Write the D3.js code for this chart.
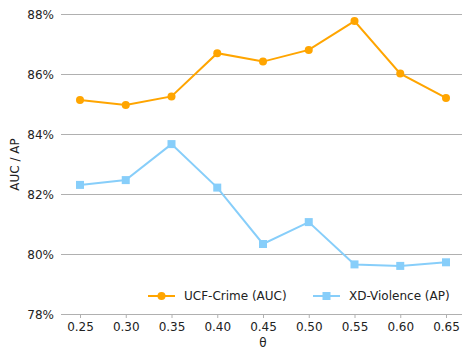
<!DOCTYPE html>
<html>
<head>
<meta charset="utf-8">
<script src="https://cdn.jsdelivr.net/npm/d3@7"></script>
<style>
  html, body { margin: 0; padding: 0; background: #fff; }
  svg { display: block; font-family: "DejaVu Sans", sans-serif; }
</style>
</head>
<body>
<svg id="chart" width="462" height="347"></svg>
<script>
// Threshold values on the x axis
const thetas = [0.25, 0.30, 0.35, 0.40, 0.45, 0.50, 0.55, 0.60, 0.65];
// UCF-Crime AUC (%)
const ucfAuc = [85.15, 84.98, 85.27, 86.71, 86.43, 86.82, 87.78, 86.03, 85.22];
// XD-Violence AP (%)
const xdAp = [82.32, 82.48, 83.68, 82.23, 80.35, 81.08, 79.67, 79.62, 79.74];
// Axis ticks
const yTicks = [78, 80, 82, 84, 86, 88];
const xTickLabels = ["0.25", "0.30", "0.35", "0.40", "0.45", "0.50", "0.55", "0.60", "0.65"];

const svg = d3.select("#chart");
const margin = { left: 61, right: 0, top: 14.5, bottom: 32.5 };
const W = 462, H = 347;

const x = d3.scaleLinear().domain([0.25, 0.65]).range([80, 446]);
const y = d3.scaleLinear().domain([78, 88]).range([H - margin.bottom, margin.top]);

// Horizontal grid lines
svg.append("g")
  .selectAll("line")
  .data(yTicks)
  .join("line")
  .attr("x1", margin.left).attr("x2", W - margin.right)
  .attr("y1", d => y(d)).attr("y2", d => y(d))
  .attr("stroke", "#b0b0b0").attr("stroke-width", 1);

// Y axis labels
svg.append("g")
  .selectAll("text")
  .data(yTicks)
  .join("text")
  .attr("x", 54).attr("y", d => y(d))
  .attr("dy", "0.35em")
  .attr("text-anchor", "end")
  .attr("font-size", 12).attr("fill", "#222")
  .text(d => d + "%");

// X axis ticks and labels
const xAxis = d3.axisBottom(x)
  .tickValues(thetas)
  .tickFormat((d, i) => xTickLabels[i])
  .tickSize(3.5)
  .tickPadding(4.5);
const gx = svg.append("g")
  .attr("transform", `translate(0,${y(78)})`)
  .call(xAxis);
gx.select(".domain").remove();
gx.selectAll(".tick line").attr("stroke", "#b0b0b0");
gx.selectAll(".tick text")
  .attr("font-size", 12).attr("fill", "#222")
  .attr("font-family", "DejaVu Sans, sans-serif");

// Axis titles
svg.append("text")
  .attr("x", (x(0.25) + x(0.65)) / 2).attr("y", 347)
  .attr("text-anchor", "middle")
  .attr("font-size", 12).attr("fill", "#222")
  .text("θ");
svg.append("text")
  .attr("transform", `translate(19,${(y(78) + y(88)) / 2}) rotate(-90)`)
  .attr("text-anchor", "middle")
  .attr("font-size", 12).attr("fill", "#222")
  .text("AUC / AP");

const line = d3.line().x((d, i) => x(thetas[i])).y(d => y(d));

// UCF-Crime series
svg.append("path").datum(ucfAuc)
  .attr("d", line).attr("fill", "none")
  .attr("stroke", "#FFA500").attr("stroke-width", 2);
svg.append("g").selectAll("circle").data(ucfAuc).join("circle")
  .attr("cx", (d, i) => x(thetas[i])).attr("cy", d => y(d))
  .attr("r", 4).attr("fill", "#FFA500");

// XD-Violence series
svg.append("path").datum(xdAp)
  .attr("d", line).attr("fill", "none")
  .attr("stroke", "#87CEFA").attr("stroke-width", 2);
svg.append("g").selectAll("rect").data(xdAp).join("rect")
  .attr("x", (d, i) => x(thetas[i]) - 4).attr("y", d => y(d) - 4)
  .attr("width", 8).attr("height", 8).attr("fill", "#87CEFA");

// Legend
const legend = svg.append("g").attr("transform", "translate(0,296)");
const items = [
  { label: "UCF-Crime (AUC)", color: "#FFA500", shape: "circle", x0: 148 },
  { label: "XD-Violence (AP)", color: "#87CEFA", shape: "square", x0: 313 }
];
items.forEach(it => {
  const g = legend.append("g").attr("transform", `translate(${it.x0},0)`);
  g.append("line").attr("x1", 0).attr("x2", 27).attr("y1", 0).attr("y2", 0)
    .attr("stroke", it.color).attr("stroke-width", 2);
  if (it.shape === "circle") {
    g.append("circle").attr("cx", 13.5).attr("cy", 0).attr("r", 4).attr("fill", it.color);
  } else {
    g.append("rect").attr("x", 9.5).attr("y", -4).attr("width", 8).attr("height", 8).attr("fill", it.color);
  }
  g.append("text").attr("x", 36).attr("y", 0).attr("dy", "0.35em")
    .attr("font-size", 12).attr("fill", "#222").text(it.label);
});
</script>
</body>
</html>
